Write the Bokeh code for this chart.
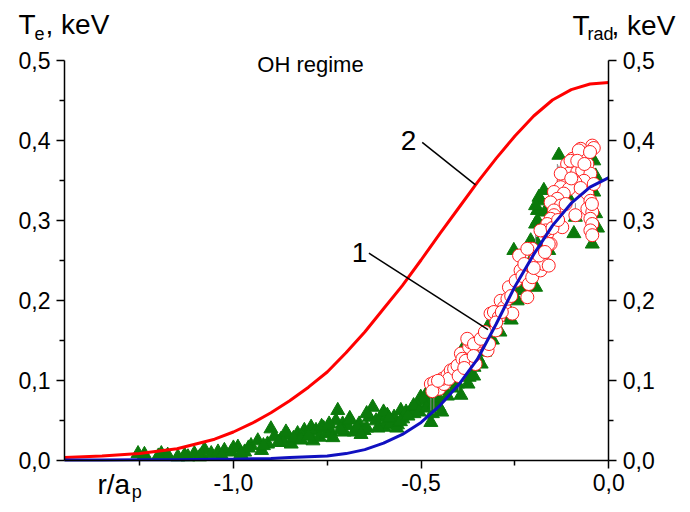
from bokeh.plotting import figure
from bokeh.models import (LinearAxis, FixedTicker, CustomJSTickFormatter, Label, Range1d)
from bokeh.embed import file_html
from bokeh.resources import INLINE

FONT = "Liberation Sans"

# ---- data ----
curve_r = [-1.45, -1.35, -1.25, -1.15, -1.05, -1.0, -0.95, -0.9, -0.85, -0.8, -0.75,
           -0.7, -0.65, -0.6, -0.55, -0.5, -0.45, -0.4, -0.35, -0.3, -0.25, -0.2,
           -0.15, -0.1, -0.05, 0.0]
curve2_T = [0.003, 0.005, 0.008, 0.014, 0.026, 0.035, 0.046, 0.059, 0.074, 0.091, 0.110,
            0.134, 0.160, 0.189, 0.218, 0.250, 0.283, 0.315, 0.347, 0.377, 0.405, 0.430,
            0.450, 0.463, 0.470, 0.472]
curve1_T = [0.0, 0.0, 0.0002, 0.0004, 0.0008, 0.001, 0.0015, 0.002, 0.003, 0.004, 0.005,
            0.008, 0.013, 0.021, 0.032, 0.047, 0.068, 0.094, 0.126, 0.170, 0.217, 0.257,
            0.293, 0.321, 0.341, 0.353]

tri_r = [-1.254, -1.237, -1.192, -1.175, -1.148, -1.121, -1.104, -1.077, -1.085, -1.059,
         -1.041, -1.024, -1.006, -0.988, -0.970, -0.953, -0.935, -0.925, -0.909, -0.900,
         -0.891, -0.873, -0.855, -0.846, -0.829, -0.811, -0.793, -0.788, -0.780,
         -0.771, -0.753, -0.740, -0.722, -0.727, -0.709, -0.696, -0.705, -0.678, -0.665,
         -0.652, -0.638, -0.629, -0.620, -0.607, -0.598, -0.581, -0.572, -0.554, -0.549,
         -0.527, -0.519, -0.501, -0.488, -0.492, -0.474, -0.470, -0.452, -0.439, -0.394,
         -0.403, -0.372, -0.386, -0.359, -0.386, -0.350, -0.332, -0.323,
         -0.315, -0.279, -0.253, -0.226, -0.195, -0.190, -0.190, -0.182, -0.133, -0.173,
         -0.186, -0.195, -0.195, -0.093, -0.120, -0.089, -0.044, -0.040, -0.035, -0.208,
         -0.244, -0.226, -0.208, -0.160, -0.140, -0.060, -0.040, -0.100, -0.300, -0.265,
         -0.867, -0.818, -0.760, -0.690, -0.645, -0.590, -0.563, -0.540, -0.510, -0.482,
         -0.960, -0.920, -0.880, -0.860, -0.840, -0.820, -0.800, -0.765, -0.745, -0.735,
         -0.715, -0.690, -0.670, -0.660, -0.645, -0.615, -0.600, -0.585, -0.565, -0.555,
         -0.535, -0.520, -0.505, -0.485, -0.465, -0.455, -0.445, -0.430, -0.410, -0.375,
         -0.360, -0.340, -0.330, -0.310, -0.290, -0.270, -0.260, -0.240, -0.215, -0.200,
         -0.190, -0.180, -0.170, -0.150, -0.130, -0.110, -0.080, -0.070, -0.050, -0.035,
         -0.030, -1.200, -1.130, -1.090, -1.030, -1.000, -0.980]
tri_T = [0.008, 0.007, 0.008, 0.006, 0.004, 0.004, 0.008, 0.013, 0.006, 0.008,
         0.010, 0.012, 0.010, 0.016, 0.010, 0.018, 0.024, 0.012, 0.020, 0.039,
         0.029, 0.026, 0.031, 0.020, 0.033, 0.037, 0.041, 0.024, 0.037,
         0.0285, 0.033, 0.035, 0.062, 0.049, 0.045, 0.043, 0.035, 0.035, 0.045,
         0.037, 0.0535, 0.066, 0.049, 0.0535, 0.041, 0.045, 0.0535, 0.062, 0.0515,
         0.062, 0.058, 0.0785, 0.081, 0.074, 0.047, 0.058, 0.066, 0.087, 0.081,
         0.095, 0.1035, 0.110, 0.116, 0.141, 0.1285, 0.1535, 0.166,
         0.166, 0.1785, 0.262, 0.245, 0.216, 0.312, 0.299, 0.324, 0.381, 0.337,
         0.3285, 0.318, 0.295, 0.283, 0.358, 0.3035, 0.270, 0.374, 0.308, 0.274,
         0.199, 0.212, 0.224, 0.262, 0.300, 0.360, 0.335, 0.345, 0.175, 0.205,
         0.022, 0.030, 0.040, 0.052, 0.040, 0.056, 0.044, 0.060, 0.068, 0.070,
         0.015, 0.018, 0.022, 0.035, 0.027, 0.025, 0.030, 0.042, 0.045, 0.028,
         0.038, 0.050, 0.040, 0.032, 0.058, 0.040, 0.060, 0.052, 0.040, 0.048,
         0.055, 0.068, 0.060, 0.065, 0.070, 0.078, 0.060, 0.080, 0.090, 0.095,
         0.105, 0.120, 0.135, 0.150, 0.160, 0.190, 0.175, 0.215, 0.235, 0.255,
         0.270, 0.290, 0.310, 0.325, 0.340, 0.330, 0.350, 0.372, 0.380, 0.355,
         0.290, 0.005, 0.006, 0.004, 0.005, 0.015, 0.008]

circ_r = [-0.474, -0.461, -0.465, -0.452, -0.439, -0.443, -0.430, -0.421, -0.426, -0.412,
          -0.403, -0.394, -0.390, -0.381, -0.372, -0.368, -0.355, -0.350, -0.341, -0.323,
          -0.319, -0.315, -0.377, -0.359, -0.341, -0.306, -0.293, -0.301, -0.288, -0.279,
          -0.270, -0.266, -0.257, -0.248, -0.239, -0.235, -0.230, -0.217, -0.213, -0.208,
          -0.204, -0.195, -0.186, -0.182, -0.173, -0.160, -0.164, -0.155, -0.146, -0.140,
          -0.044, -0.075, -0.080, -0.062, -0.097, -0.093, -0.111, -0.106, -0.084, -0.071,
          -0.057, -0.049, -0.066, -0.089, -0.120, -0.128, -0.106, -0.146, -0.120, -0.137,
          -0.155, -0.128, -0.146, -0.057, -0.049, -0.057, -0.044, -0.049, -0.044, -0.049,
          -0.044, -0.089, -0.124, -0.146, -0.155, -0.164, -0.168, -0.160, -0.182, -0.204,
          -0.186, -0.217, -0.128, -0.040, -0.080, -0.102, -0.084,
          -0.470, -0.455, -0.400, -0.385, -0.360, -0.330, -0.300, -0.285, -0.260, -0.225,
          -0.200, -0.170, -0.150, -0.135, -0.115, -0.100, -0.075, -0.065, -0.050, -0.040,
          -0.045]
circ_T = [0.095, 0.093, 0.097, 0.089, 0.095, 0.1015, 0.106, 0.112, 0.1015, 0.114,
          0.118, 0.133, 0.1265, 0.124, 0.141, 0.147, 0.120, 0.145, 0.149, 0.137,
          0.145, 0.183, 0.1515, 0.145, 0.1515, 0.185, 0.1785, 0.162, 0.199, 0.191,
          0.2015, 0.216, 0.183, 0.224, 0.2556, 0.237, 0.230, 0.2035, 0.220, 0.264,
          0.2285, 0.2515, 0.258, 0.237, 0.245, 0.243, 0.283, 0.270, 0.316, 0.310,
          0.393, 0.389, 0.3785, 0.383, 0.3765, 0.366, 0.370, 0.358, 0.360, 0.362,
          0.370, 0.358, 0.349, 0.347, 0.349, 0.341, 0.339, 0.335, 0.333, 0.3265,
          0.322, 0.318, 0.312, 0.333, 0.324, 0.314, 0.310, 0.3015, 0.295, 0.287,
          0.281, 0.306, 0.291, 0.306, 0.3015, 0.295, 0.287, 0.270, 0.287, 0.264,
          0.2556, 0.264, 0.358, 0.390, 0.387, 0.374, 0.374,
          0.086, 0.099, 0.105, 0.115, 0.130, 0.160, 0.172, 0.185, 0.205, 0.245,
          0.240, 0.260, 0.290, 0.300, 0.320, 0.352, 0.340, 0.370, 0.385, 0.345,
          0.320]

err_r = [-0.133, -0.195, -0.089, -0.160, -0.474, -0.466, -0.400, -0.137]
err_lo = [0.347, 0.272, 0.303, 0.249, 0.062, 0.058, 0.087, 0.343]
err_hi = [0.368, 0.285, 0.321, 0.264, 0.083, 0.083, 0.097, 0.370]

x_major = [-1.0, -0.5, 0.0]
x_minor = [-1.25, -0.75, -0.25]
y_major = [0.0, 0.1, 0.2, 0.3, 0.4, 0.5]
y_minor = [0.05, 0.15, 0.25, 0.35, 0.45]
x_lim = (-1.45, 0.0)
y_lim = (0.0, 0.5)

W, H = 686, 510
# frame covers the whole canvas; axes are pinned at the data limits
p = figure(width=W, height=H,
           x_range=Range1d(-1.6204, 0.2070), y_range=Range1d(-0.063125, 0.574375),
           output_backend="svg", toolbar_location=None,
           min_border=0, min_border_left=0, min_border_right=0,
           min_border_top=0, min_border_bottom=0,
           x_axis_type=None, y_axis_type=None)
p.outline_line_color = None
p.background_fill_color = "white"
p.border_fill_color = "white"

fmt = CustomJSTickFormatter(code="return tick.toFixed(1).replace('.', ',');")

def make_axis(major, minor, bounds, loc):
    ax = LinearAxis(ticker=FixedTicker(ticks=major, minor_ticks=minor), formatter=fmt,
                    bounds=bounds, fixed_location=loc)
    ax.axis_line_width = 1.5
    ax.axis_line_color = "black"
    ax.major_tick_line_width = 1.5
    ax.minor_tick_line_width = 1.5
    ax.major_tick_out = 8
    ax.major_tick_in = 0
    ax.minor_tick_out = 5
    ax.minor_tick_in = 0
    ax.major_label_text_font = FONT
    ax.major_label_text_font_size = "23px"
    ax.major_label_text_color = "black"
    ax.major_label_standoff = 6
    return ax

p.add_layout(make_axis(x_major, x_minor, x_lim, 0.0), "below")
p.add_layout(make_axis(y_major, y_minor, y_lim, -1.45), "left")
p.add_layout(make_axis(y_major, y_minor, y_lim, 0.0), "right")

# data
p.scatter(tri_r, tri_T, marker="triangle", size=14, fill_color="#0b7a0b",
          line_color="#0b7a0b", line_width=1)
p.segment(x0=err_r, y0=err_lo, x1=err_r, y1=err_hi, line_color="#8a8a8a", line_width=1)
p.scatter(circ_r, circ_T, marker="circle", size=13, fill_color="white",
          line_color="#ff2020", line_width=1)
p.line(curve_r, curve2_T, line_color="#ff0000", line_width=3)
p.line(curve_r, curve1_T, line_color="#1010c0", line_width=3)

# leader lines
lead_x0 = [-0.497, -0.639]
lead_y0 = [0.397, 0.2585]
lead_x1 = [-0.3551, -0.3218]
lead_y1 = [0.344, 0.163]
p.segment(x0=lead_x0, y0=lead_y0, x1=lead_x1, y1=lead_y1, line_color="black", line_width=1.5)

def lab(x, y, text, size, align="left"):
    p.add_layout(Label(x=x, y=y, text=text, text_font=FONT, text_font_size=size,
                       text_color="black", text_align=align, text_baseline="alphabetic"))

dy = 0.010
lab(-0.5336, 0.389 + dy, "2", "28px", "center")
lab(-0.664, 0.249 + dy, "1", "28px", "center")
lab(-0.7946, 0.4848 + dy, "OH regime", "22px", "center")

# axis titles
lab(-1.5725, 0.5344 + dy, "T", "28px")
lab(-1.5298, 0.5231 + dy, "e", "18px")
lab(-1.5005, 0.5344 + dy, ", keV", "28px")
lab(-0.0967, 0.5331 + dy, "T", "28px")
lab(-0.0567, 0.5219 + dy, "rad", "18px")
lab(0.0072, 0.5331 + dy, ", keV", "28px")
lab(-1.3621, -0.0406 + dy, "r/a", "28px")
lab(-1.2711, -0.0505 + dy, "p", "18px")

open("out.html", "w").write(file_html(p, INLINE))
